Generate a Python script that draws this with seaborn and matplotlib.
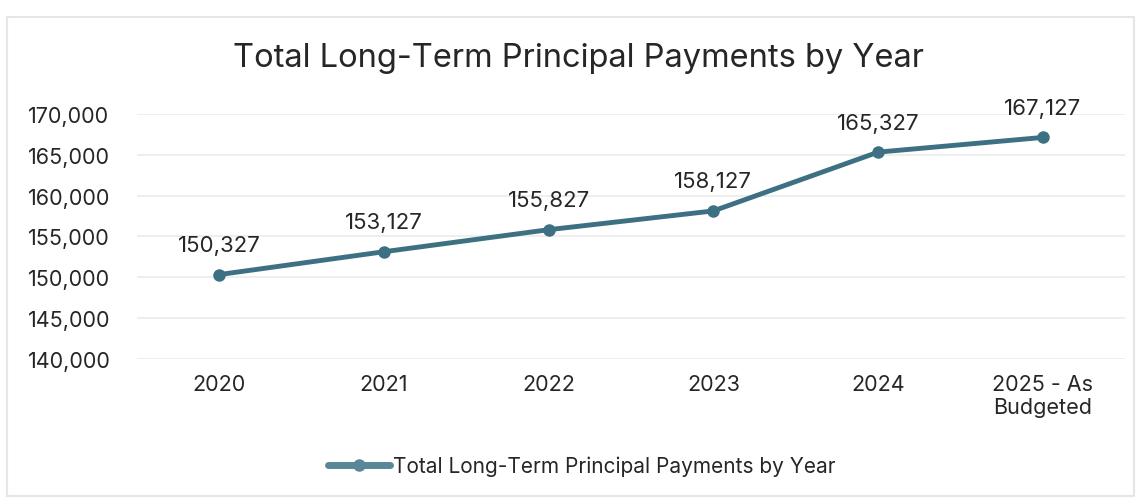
import matplotlib
matplotlib.use("Agg")
import matplotlib.pyplot as plt
import matplotlib.patches as mpatches
import seaborn as sns
import pandas as pd

years = ["2020", "2021", "2022", "2023", "2024", "2025 - As\nBudgeted"]
payments = [150327, 153127, 155827, 158127, 165327, 167127]
y_ticks = [140000, 145000, 150000, 155000, 160000, 165000, 170000]
series_name = "Total Long-Term Principal Payments by Year"

sns.set_theme(style="white")
plt.rcParams["font.family"] = ["Inter", "DejaVu Sans"]

df = pd.DataFrame({"year": years, "payments": payments, "series": series_name})

fig = plt.figure(figsize=(11.39, 5.02), dpi=100)
ax = fig.add_axes([0.120, 0.283, 0.868, 0.488])

line_color = "#3d7083"
sns.lineplot(data=df, x="year", y="payments", hue="series", palette=[line_color],
             marker="o", markersize=9, linewidth=3.5, markeredgewidth=0,
             sort=False, ax=ax, clip_on=False)

ax.set_xlim(-0.5, len(years) - 0.5)
ax.set_ylim(y_ticks[0], y_ticks[-1])
ax.set_yticks(y_ticks)
ax.set_yticklabels([f"{v:,}" for v in y_ticks])
ax.grid(axis="y", color="#ebebeb", linewidth=1.2)
ax.grid(axis="x", visible=False)
for s in ax.spines.values():
    s.set_visible(False)
ax.tick_params(axis="both", length=0, labelsize=15.5, colors="#262626")
ax.tick_params(axis="x", pad=11)
ax.tick_params(axis="y", pad=0)
for lbl in ax.get_yticklabels():
    lbl.set_horizontalalignment("left")
    lbl.set_x(-0.110)
ax.set_xlabel("")
ax.set_ylabel("")

for i, v in enumerate(payments):
    ax.annotate(f"{v:,}", (i, v), xytext=(0, 14), textcoords="offset points",
                ha="center", va="bottom", fontsize=16, color="#262626")

fig.text(0.508, 0.884, series_name, ha="center", va="center",
         fontsize=23.5, color="#262626")

leg = ax.legend(loc="center", bbox_to_anchor=(0.450, -0.436), frameon=False,
                fontsize=15, handlelength=3, handletextpad=0.1)
for h in leg.legend_handles:
    h.set_color("#5a8797")
    h.set_linewidth(5)
for t in leg.get_texts():
    t.set_color("#262626")

fig.patches.append(mpatches.Rectangle((0.006, 0.01), 0.99, 0.955, transform=fig.transFigure,
                                      fill=False, edgecolor="#e6e6e6", linewidth=1.5))

fig.savefig("out.png", dpi=100)
